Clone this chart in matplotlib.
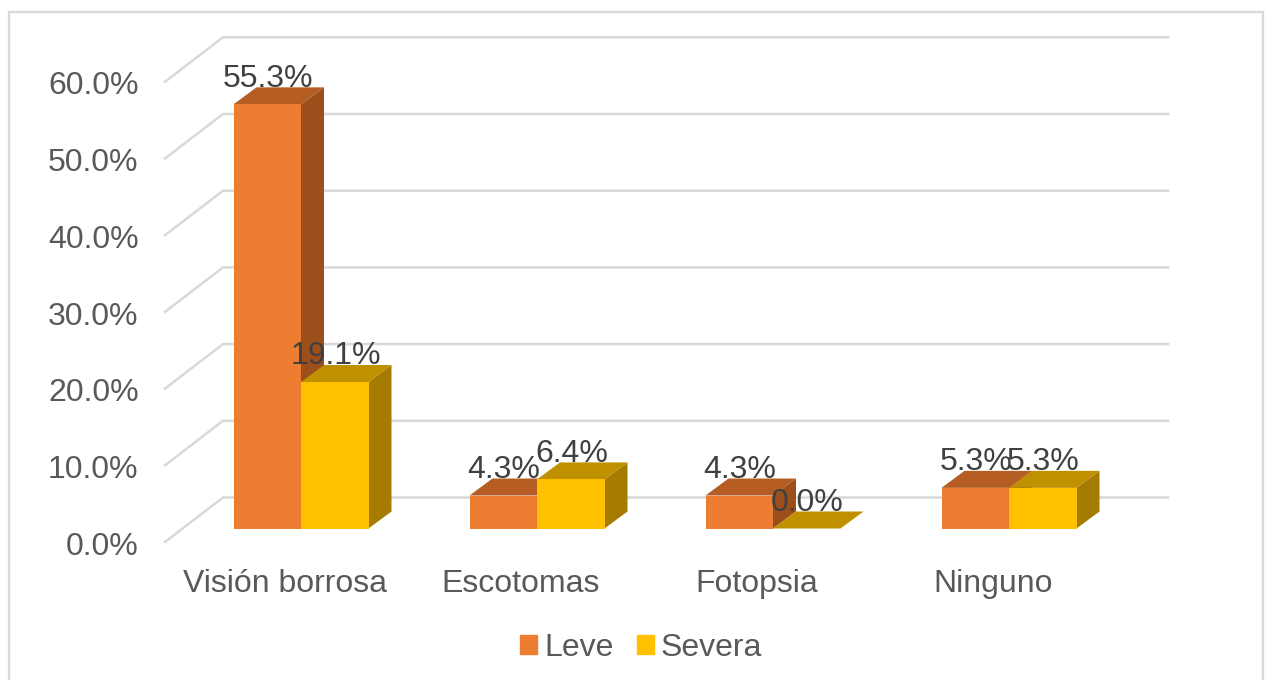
import matplotlib
matplotlib.use("Agg")
import matplotlib.pyplot as plt
from matplotlib.patches import Patch, Rectangle
from matplotlib.transforms import ScaledTranslation

plt.rcParams["font.family"] = ["Liberation Sans", "DejaVu Sans"]

categories = ["Visión borrosa", "Escotomas", "Fotopsia", "Ninguno"]
leve = [55.3, 4.3, 4.3, 5.3]
severa = [19.1, 6.4, 0.0, 5.3]
yticks = [0, 10, 20, 30, 40, 50, 60]

ORANGE, ORANGE_TOP, ORANGE_SIDE = "#ED7D31", "#B55D22", "#9C4F1A"
YELLOW, YELLOW_TOP, YELLOW_SIDE = "#FFC000", "#BF9000", "#A67C00"
GRID = "#D9D9D9"
FS = 23.0

W, H = 1268, 680
PX_X = 236.0   # px per category
PX_Y = 7.67    # px per percent

fig = plt.figure(figsize=(W / 100, H / 100), dpi=100)
left, right, bottom, top = 165, 1168, 542, 36
ax = fig.add_axes([left / W, 1 - bottom / H, (right - left) / W, (bottom - top) / H])
ax.set_xlim((left - 285) / PX_X, (right - 285) / PX_X)
ax.set_ylim(0, (bottom - top) / PX_Y)

# pseudo 3d offsets, converted from pixels to data units
wall_dx, wall_dy = 58 / PX_X, 44.5 / PX_Y
bar_w = 67.5 / PX_X
bar_off = 16 / PX_X
base = 13.5 / PX_Y
dep_x, dep_y = 23 / PX_X, 17 / PX_Y

for t in yticks:
    ax.plot([ax.get_xlim()[0], ax.get_xlim()[0] + wall_dx, ax.get_xlim()[1]],
            [t, t + wall_dy, t + wall_dy], color=GRID, lw=1.8, zorder=1,
            solid_joinstyle="miter", clip_on=False)


def draw_series(vals, x0, front, top_c, side_c, z):
    for i, v in enumerate(vals):
        xl = i + x0
        xr = xl + bar_w
        y1 = base + v
        ax.fill([xr, xr + dep_x, xr + dep_x, xr],
                [base, base + dep_y, y1 + dep_y, y1], color=side_c, lw=0, zorder=z)
        ax.fill([xl, xl + dep_x, xr + dep_x, xr],
                [y1, y1 + dep_y, y1 + dep_y, y1], color=top_c, lw=0, zorder=z)
    ax.bar([i + x0 for i in range(len(vals))], vals, bar_w, bottom=base, align="edge",
           color=front, linewidth=0, zorder=z + 0.1)
    for i, v in enumerate(vals):
        ax.annotate(f"{v:.1f}%", (i + x0 + bar_w / 2, base + v), xytext=(0.5, 18.6),
                    textcoords="offset points", ha="center", va="center",
                    fontsize=FS, color="#404040", zorder=10)


draw_series(leve, bar_off - bar_w, ORANGE, ORANGE_TOP, ORANGE_SIDE, 2)
draw_series(severa, bar_off, YELLOW, YELLOW_TOP, YELLOW_SIDE, 3)

ax.set_xticks(range(len(categories)), categories)
ax.set_yticks(yticks, [f"{t:.1f}%" for t in yticks])
ax.tick_params(axis="x", length=0, pad=19.4, labelsize=FS, labelcolor="#595959")
ax.tick_params(axis="y", length=0, pad=19.0, labelsize=FS, labelcolor="#595959")
shift = ScaledTranslation(0, -0.8 / 72, fig.dpi_scale_trans)
for lab in ax.get_yticklabels():
    lab.set_transform(lab.get_transform() + shift)
for s in ax.spines.values():
    s.set_visible(False)
ax.patch.set_alpha(0)

handles = [Patch(color=ORANGE, label="Leve"), Patch(color=YELLOW, label="Severa")]
fig.legend(handles=handles, loc="center", bbox_to_anchor=(641 / W, 1 - 648 / H), ncol=2,
           frameon=False, fontsize=FS, labelcolor="#595959", handlelength=0.54,
           handleheight=0.54, handletextpad=0.22, columnspacing=0.72)

fig.add_artist(Rectangle((9 / W, -0.02), (1263 - 9) / W, 1.02 - 12 / H,
                         transform=fig.transFigure, fill=False, edgecolor=GRID, lw=1.7))

fig.savefig("out.png", dpi=100)
